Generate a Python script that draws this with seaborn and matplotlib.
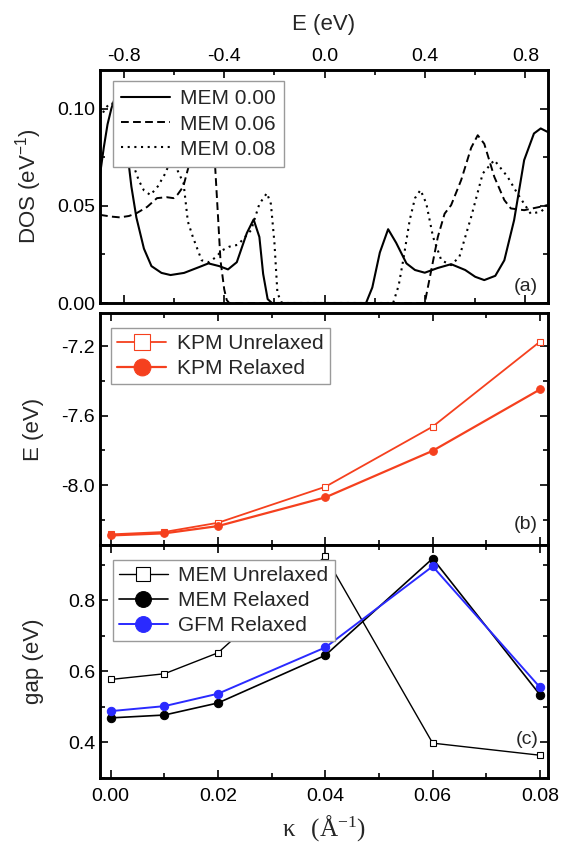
import numpy as np
import pandas as pd
import matplotlib
matplotlib.use("Agg")
import matplotlib.pyplot as plt
import seaborn as sns
from matplotlib.ticker import MultipleLocator, FormatStrFormatter

# ---------------- data ----------------
# panel (a): DOS curves
E_mem000 = [-0.895, -0.88, -0.865, -0.85, -0.835, -0.815, -0.79, -0.77, -0.75, -0.72, -0.69, -0.65,
            -0.614, -0.56, -0.50, -0.463, -0.42, -0.385, -0.35, -0.31, -0.283, -0.26, -0.245,
            -0.227, -0.21, 0.165, 0.19, 0.22, 0.253, 0.285, 0.326, 0.36, 0.399, 0.45, 0.504,
            0.56, 0.60, 0.636, 0.68, 0.716, 0.755, 0.795, 0.834, 0.861, 0.89]
D_mem000 = [0.066, 0.080, 0.092, 0.100, 0.106, 0.104, 0.082, 0.060, 0.044, 0.028, 0.019, 0.0155,
            0.0144, 0.0155, 0.0185, 0.0204, 0.019, 0.0173, 0.021, 0.036, 0.043, 0.034, 0.015,
            0.002, 0.0, 0.0, 0.008, 0.026, 0.038, 0.031, 0.0204, 0.017, 0.0156, 0.018, 0.020,
            0.017, 0.0135, 0.0118, 0.014, 0.022, 0.0427, 0.0736, 0.0873, 0.0899, 0.088]

E_mem006 = [-0.895, -0.85, -0.816, -0.78, -0.75, -0.707, -0.668, -0.63, -0.602, -0.585, -0.563,
            -0.537, -0.51, -0.48, -0.455, -0.437, -0.425, -0.415, -0.40, -0.39, -0.38, 0.399,
            0.425, 0.451, 0.478, 0.504, 0.544, 0.584, 0.61, 0.636, 0.676, 0.716, 0.742, 0.795,
            0.861, 0.89]
D_mem006 = [0.0454, 0.0445, 0.0441, 0.0448, 0.0462, 0.0495, 0.054, 0.0545, 0.054, 0.056, 0.060,
            0.0727, 0.095, 0.105, 0.095, 0.072, 0.045, 0.022, 0.007, 0.0015, 0.0, 0.0,
            0.017, 0.034, 0.046, 0.0504, 0.0633, 0.080, 0.0864, 0.082, 0.065, 0.053, 0.0487, 0.0478,
            0.0496, 0.0505]

E_mem008 = [-0.895, -0.875, -0.855, -0.83, -0.80, -0.767, -0.74, -0.72, -0.694, -0.665, -0.635,
            -0.615, -0.60, -0.585, -0.562, -0.545, -0.525, -0.49, -0.46, -0.43, -0.41, -0.38,
            -0.345, -0.293, -0.26, -0.23, -0.214, -0.20, -0.188, -0.17, 0.273, 0.295, 0.313,
            0.339, 0.36, 0.382, 0.405, 0.432, 0.465, 0.504, 0.537, 0.584, 0.63, 0.676, 0.729,
            0.768, 0.821, 0.861, 0.885]
D_mem008 = [0.095, 0.100, 0.103, 0.102, 0.090, 0.0727, 0.063, 0.058, 0.0556, 0.060, 0.0667,
            0.073, 0.0745, 0.068, 0.0616, 0.042, 0.034, 0.022, 0.021, 0.024, 0.027, 0.029,
            0.030, 0.0375, 0.051, 0.0566, 0.051, 0.031, 0.005, 0.0, 0.0, 0.009, 0.022,
            0.0427, 0.054, 0.0582, 0.0513, 0.034, 0.022, 0.0195, 0.0238, 0.0444, 0.0667, 0.0736, 0.065,
            0.0564, 0.046, 0.047, 0.0496]

# panels (b) and (c)
kappa = [0.00, 0.01, 0.02, 0.04, 0.06, 0.08]
kpm_unrelaxed = [-8.284, -8.27, -8.217, -8.01, -7.664, -7.175]
kpm_relaxed = [-8.29, -8.278, -8.236, -8.071, -7.803, -7.45]
mem_unrelaxed = [0.577, 0.593, 0.652, 0.923, 0.398, 0.364]
mem_relaxed = [0.469, 0.477, 0.511, 0.645, 0.917, 0.534]
gfm_relaxed = [0.488, 0.502, 0.537, 0.667, 0.895, 0.555]

# ---------------- style ----------------
sns.set_style("ticks")
plt.rcParams['font.family'] = ['Liberation Sans', 'DejaVu Sans']
plt.rcParams['axes.unicode_minus'] = False

RED = '#f5401e'
BLUE = '#2a2aff'
TICK_FS = 14
LAB_FS = 16
LEG_FS = 15

W, H = 564, 846
fig = plt.figure(figsize=(W / 100, H / 100), dpi=100)
L, R = 100 / W, 548 / W


def axrect(top, bottom):
    return [L, 1 - bottom / H, R - L, (bottom - top) / H]


axa = fig.add_axes(axrect(70, 303))
axb = fig.add_axes(axrect(313, 545))
axc = fig.add_axes(axrect(545, 778))


def style(ax):
    for s in ax.spines.values():
        s.set_linewidth(2.1)
        s.set_color('black')
    ax.tick_params(which='both', direction='in', top=True, right=True, width=1.2,
                   labelsize=TICK_FS, colors='black')
    ax.tick_params(which='major', length=6)
    ax.tick_params(which='minor', length=3.5)


LEG_KW = dict(loc='upper left', borderaxespad=0, fontsize=LEG_FS, frameon=True, fancybox=False,
              edgecolor='#9a9a9a', framealpha=1, handletextpad=0.5)

# ---------------- panel (a) ----------------
sns.lineplot(x=E_mem000, y=D_mem000, ax=axa, color='black', lw=1.5, sort=False,
             estimator=None, label='MEM 0.00')
sns.lineplot(x=E_mem006, y=D_mem006, ax=axa, color='black', lw=1.4, sort=False,
             estimator=None, linestyle=(0, (4, 2.2)), label='MEM 0.06')
sns.lineplot(x=E_mem008, y=D_mem008, ax=axa, color='black', lw=1.5, sort=False,
             estimator=None, linestyle=(0, (1, 2.2)), label='MEM 0.08')
axa.set_xlim(-0.895, 0.89)
axa.set_ylim(0, 0.12)
style(axa)
axa.xaxis.set_major_locator(MultipleLocator(0.4))
axa.xaxis.set_minor_locator(MultipleLocator(0.2))
axa.xaxis.set_major_formatter(FormatStrFormatter('%.1f'))
axa.yaxis.set_major_locator(MultipleLocator(0.05))
axa.yaxis.set_minor_locator(MultipleLocator(0.025))
axa.yaxis.set_major_formatter(FormatStrFormatter('%.2f'))
axa.tick_params(axis='x', which='both', labeltop=True, labelbottom=False, top=True, bottom=True)
axa.xaxis.set_label_position('top')
axa.set_xlabel('E (eV)', fontsize=LAB_FS, labelpad=13)
axa.set_ylabel(r'DOS (eV$\mathregular{^{-1}}$)', fontsize=LAB_FS)
axa.yaxis.set_label_coords(-0.125, 0.5)
axa.text(0.978, 0.035, '(a)', transform=axa.transAxes, ha='right', va='bottom', fontsize=14)
axa.legend(bbox_to_anchor=(0.028, 0.953), handlelength=2.35, labelspacing=0.3,
           borderpad=0.4, **LEG_KW)

# ---------------- panel (b) ----------------
sns.lineplot(x=kappa, y=kpm_unrelaxed, ax=axb, color=RED, lw=1.3, sort=False, estimator=None,
             marker='s', markersize=5, markerfacecolor='white', markeredgecolor=RED,
             markeredgewidth=0.8, label='KPM Unrelaxed')
sns.lineplot(x=kappa, y=kpm_relaxed, ax=axb, color=RED, lw=1.6, sort=False, estimator=None,
             marker='o', markersize=5.5, markerfacecolor=RED, markeredgecolor=RED,
             label='KPM Relaxed')
axb.set_xlim(-0.002, 0.0815)
axb.set_ylim(-8.345, -7.01)
style(axb)
axb.xaxis.set_major_locator(MultipleLocator(0.02))
axb.xaxis.set_minor_locator(MultipleLocator(0.01))
axb.tick_params(axis='x', which='both', labelbottom=False)
axb.yaxis.set_major_locator(MultipleLocator(0.4))
axb.yaxis.set_minor_locator(MultipleLocator(0.2))
axb.yaxis.set_major_formatter(FormatStrFormatter('%.1f'))
axb.set_xlabel('')
axb.set_ylabel('E (eV)', fontsize=LAB_FS)
axb.yaxis.set_label_coords(-0.125, 0.5)
axb.text(0.978, 0.05, '(b)', transform=axb.transAxes, ha='right', va='bottom', fontsize=14)
axb.legend(bbox_to_anchor=(0.025, 0.935), markerscale=2.2, handlelength=2.35,
           labelspacing=0.28, borderpad=0.3, **LEG_KW)

# ---------------- panel (c) ----------------
sns.lineplot(x=kappa, y=mem_unrelaxed, ax=axc, color='black', lw=1.0, sort=False, estimator=None,
             marker='s', markersize=5, markerfacecolor='white', markeredgecolor='black',
             markeredgewidth=0.8, label='MEM Unrelaxed')
sns.lineplot(x=kappa, y=mem_relaxed, ax=axc, color='black', lw=1.2, sort=False, estimator=None,
             marker='o', markersize=6, markerfacecolor='black', markeredgecolor='black',
             label='MEM Relaxed')
sns.lineplot(x=kappa, y=gfm_relaxed, ax=axc, color=BLUE, lw=1.4, sort=False, estimator=None,
             marker='o', markersize=6, markerfacecolor=BLUE, markeredgecolor=BLUE,
             label='GFM Relaxed')
axc.set_xlim(-0.002, 0.0815)
axc.set_ylim(0.30, 0.955)
style(axc)
axc.tick_params(axis='x', which='both', pad=7)
axc.xaxis.set_major_locator(MultipleLocator(0.02))
axc.xaxis.set_minor_locator(MultipleLocator(0.01))
axc.xaxis.set_major_formatter(FormatStrFormatter('%.2f'))
axc.yaxis.set_major_locator(MultipleLocator(0.2))
axc.yaxis.set_minor_locator(MultipleLocator(0.1))
axc.yaxis.set_major_formatter(FormatStrFormatter('%.1f'))
axc.set_ylabel('gap (eV)', fontsize=LAB_FS)
axc.yaxis.set_label_coords(-0.125, 0.5)
axc.set_xlabel(r'$\mathregular{\kappa\ \ (\AA^{-1})}$', fontsize=18,
               fontfamily='Liberation Serif', labelpad=6)
axc.text(0.978, 0.13, '(c)', transform=axc.transAxes, ha='right', va='bottom', fontsize=14)
axc.legend(bbox_to_anchor=(0.028, 0.936), markerscale=1.9, handlelength=2.35,
           labelspacing=0.28, borderpad=0.3, **LEG_KW)

fig.savefig('out.png', dpi=100)
